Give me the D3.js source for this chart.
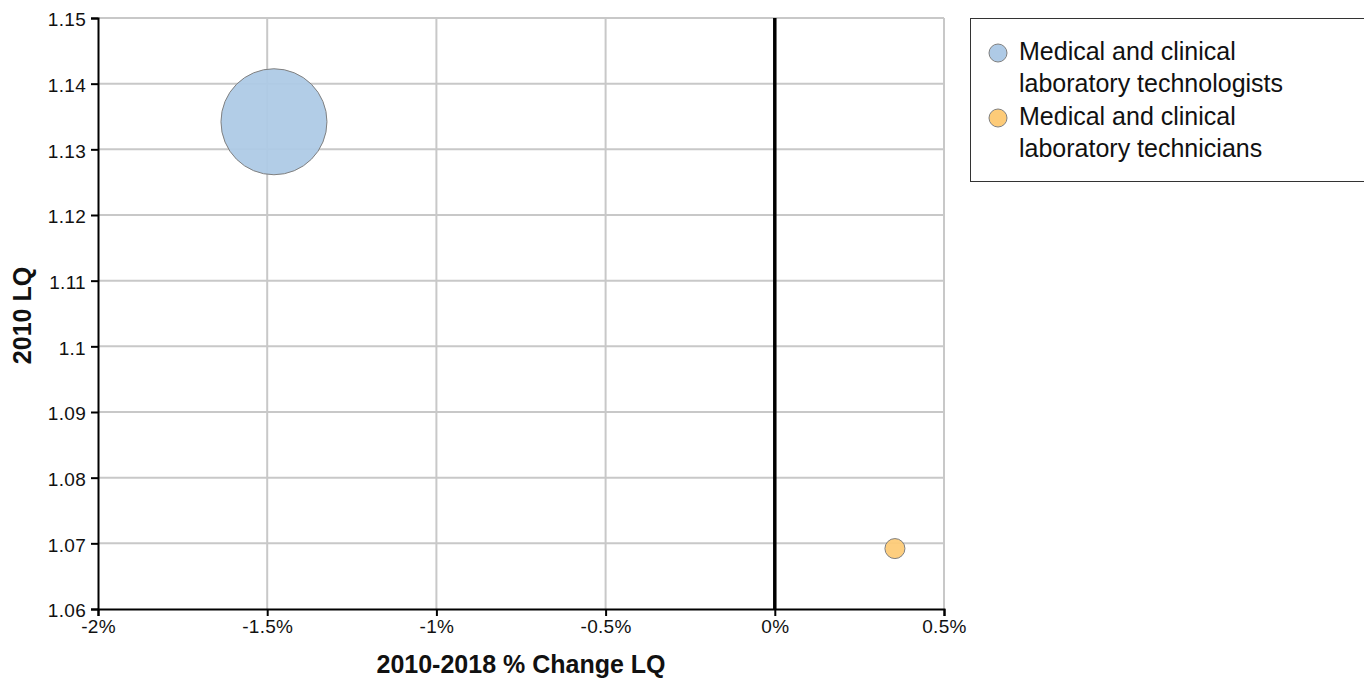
<!DOCTYPE html>
<html>
<head>
<meta charset="utf-8">
<script src="https://cdn.jsdelivr.net/npm/d3@7"></script>
<style>
  body { margin: 0; background: #fff; }
  svg { display: block; font-family: "Liberation Sans", Arial, sans-serif; }
</style>
</head>
<body>
<div id="container"></div>
<script>
// chart data
const occupations = ["Medical and clinical laboratory technologists", "Medical and clinical laboratory technicians"];
const pctChange = [-1.48, 0.355];
const lq2010 = [1.1342, 1.0692];
const employment = [2800, 100];
const colors = ["#aecae6", "#fdcb78"];
const xTicks = [-2, -1.5, -1, -0.5, 0, 0.5];
const yTicks = [1.06, 1.07, 1.08, 1.09, 1.1, 1.11, 1.12, 1.13, 1.14, 1.15];

const width = 1364, height = 680;
const marginLeft = 98, marginTop = 18, plotRight = 944, plotBottom = 609;
const fontFamily = "'Liberation Sans', Arial, sans-serif";

const svg = d3.select("#container").append("svg")
    .attr("width", width)
    .attr("height", height);

const x = d3.scaleLinear().domain([-2, 0.5]).range([marginLeft, plotRight]);
const y = d3.scaleLinear().domain([1.06, 1.15]).range([plotBottom, marginTop]);
const r = d3.scaleSqrt().domain([0, d3.max(employment)]).range([0, 53]);

// grid
const grid = svg.append("g").attr("stroke", "#c8c8c8").attr("stroke-width", 2);
grid.selectAll(".gx").data(xTicks.filter(d => d !== 0 && d !== -2)).join("line")
    .attr("x1", d => x(d)).attr("x2", d => x(d))
    .attr("y1", marginTop).attr("y2", plotBottom);
grid.selectAll(".gy").data(yTicks.filter(d => d !== 1.06)).join("line")
    .attr("x1", marginLeft).attr("x2", plotRight)
    .attr("y1", d => y(d)).attr("y2", d => y(d));

// zero line
svg.append("line")
    .attr("x1", x(0)).attr("x2", x(0))
    .attr("y1", marginTop).attr("y2", plotBottom)
    .attr("stroke", "#000").attr("stroke-width", 3.5);

// axes
const xAxis = svg.append("g")
    .attr("transform", `translate(0,${plotBottom})`)
    .call(d3.axisBottom(x).tickValues(xTicks).tickSize(7).tickPadding(4).tickFormat(d => d + "%"));
const yAxis = svg.append("g")
    .attr("transform", `translate(${marginLeft},0)`)
    .call(d3.axisLeft(y).tickValues(yTicks).tickSize(7).tickPadding(5).tickFormat(d => String(+d.toFixed(2))));
[xAxis, yAxis].forEach(a => {
  a.attr("font-family", null).attr("font-size", null);
  a.select(".domain").attr("stroke", "#000").attr("stroke-width", 2);
  a.selectAll(".tick line").attr("stroke", "#000").attr("stroke-width", 2);
  a.selectAll("text").attr("fill", "#111").style("font-size", "19px")
    .style("letter-spacing", "0.3px")
    .style("font-family", fontFamily);
});
yAxis.selectAll("text").attr("dy", "0.42em");

// bubbles
const idx = d3.range(occupations.length);
svg.append("g").selectAll("circle").data(idx).join("circle")
    .attr("cx", i => x(pctChange[i]))
    .attr("cy", i => y(lq2010[i]))
    .attr("r", i => r(employment[i]))
    .attr("fill", i => colors[i])
    .attr("fill-opacity", 0.95)
    .attr("stroke", "#808080")
    .attr("stroke-width", 1);

// axis titles
svg.append("text")
    .attr("x", (marginLeft + plotRight) / 2).attr("y", 673)
    .attr("text-anchor", "middle")
    .attr("fill", "#111")
    .style("font-size", "25px").style("font-weight", "bold")
    .text("2010-2018 % Change LQ");
svg.append("text")
    .attr("transform", `translate(31,${(marginTop + plotBottom) / 2 + 2}) rotate(-90)`)
    .attr("text-anchor", "middle")
    .attr("fill", "#111")
    .style("font-size", "25px").style("font-weight", "bold")
    .text("2010 LQ");

// legend
const legend = svg.append("g");
legend.append("rect")
    .attr("x", 970.5).attr("y", 18.5)
    .attr("width", 420).attr("height", 163)
    .attr("fill", "#fff").attr("stroke", "#333").attr("stroke-width", 1);
const items = legend.selectAll("g.item").data(idx).join("g")
    .attr("class", "item")
    .attr("transform", i => `translate(0,${51 + i * 65})`);
items.append("circle")
    .attr("cx", 998).attr("cy", 2).attr("r", 9)
    .attr("fill", i => colors[i]).attr("stroke", "#808080");
items.each(function(i) {
  const words = occupations[i].split(" ");
  const lines = [words.slice(0, 3).join(" "), words.slice(3).join(" ")];
  d3.select(this).append("text")
    .attr("y", 0)
    .attr("fill", "#111")
    .style("font-size", "25px")
    .selectAll("tspan").data(lines).join("tspan")
    .attr("x", 1019).attr("dy", (d, k) => k === 0 ? "0.35em" : "32px")
    .text(d => d);
});
</script>
</body>
</html>
